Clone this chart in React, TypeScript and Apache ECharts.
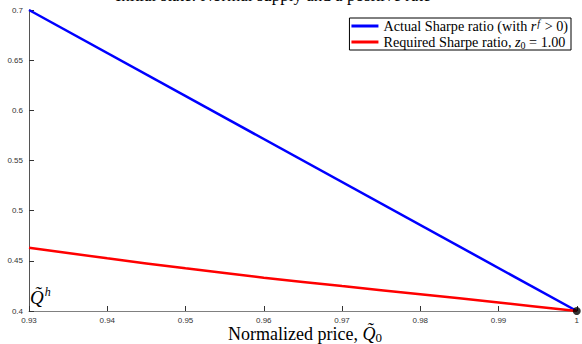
import React, { useEffect, useRef } from "react";
import * as echarts from "echarts";

const priceX = [0.93, 0.94, 0.95, 0.96, 0.97, 0.98, 0.99, 1.0];
const actualX = [0.93, 1.0];
const actualSharpe = [0.7, 0.4];
const requiredSharpe = [0.463, 0.4525, 0.4425, 0.4332, 0.4248, 0.4168, 0.4085, 0.4];
const endPoint = [1.0, 0.4];
const seriesNames = ["Actual Sharpe ratio", "Required Sharpe ratio"];
const titleText = "Initial state: Normal supply and a positive rate";

const SERIF = "'Liberation Serif', 'DejaVu Serif', serif";
const SANS = "'Liberation Sans', Arial, sans-serif";

export default function App() {
  const ref = useRef<HTMLDivElement>(null);
  useEffect(() => {
    if (!ref.current) return;
    const chart = echarts.init(ref.current, undefined, { renderer: "svg" });
    const fmt = (v: number) => String(+Number(v).toFixed(2));
    chart.setOption({
      animation: false,
      backgroundColor: "#ffffff",
      grid: { left: 29, right: 3, top: 10, bottom: 33 },
      xAxis: {
        type: "value",
        min: 0.93,
        max: 1.0,
        interval: 0.01,
        axisLine: { show: true, lineStyle: { color: "#808080", width: 1 } },
        axisTick: { show: true, inside: true, length: 5, lineStyle: { color: "#333" } },
        axisLabel: { formatter: fmt, fontFamily: SANS, fontSize: 8, color: "#333", margin: 5 },
        splitLine: { show: false },
      },
      yAxis: {
        type: "value",
        min: 0.4,
        max: 0.7,
        interval: 0.05,
        axisLine: { show: true, lineStyle: { color: "#555", width: 1 } },
        axisTick: { show: true, inside: true, length: 5, lineStyle: { color: "#333" } },
        axisLabel: { formatter: fmt, fontFamily: SANS, fontSize: 8, color: "#333", margin: 6 },
        splitLine: { show: false },
      },
      legend: {
        orient: "vertical",
        right: 11,
        top: 18,
        data: seriesNames,
        icon: "rect",
        itemWidth: 27,
        itemHeight: 3,
        itemGap: 0,
        padding: [0, 3, 0, 2],
        backgroundColor: "#fff",
        borderColor: "#000",
        borderWidth: 1,
        borderRadius: 0,
        textStyle: {
          fontFamily: SERIF,
          fontSize: 14.2,
          color: "#000",
          rich: {
            n: { fontFamily: SERIF, fontSize: 14.2, color: "#000", lineHeight: 13 },
            i: { fontFamily: SERIF, fontSize: 14.2, fontStyle: "italic", color: "#000", lineHeight: 13 },
            sup: { fontFamily: SERIF, fontSize: 10, fontStyle: "italic", color: "#000", lineHeight: 7, padding: [0, 1, 6, 1] },
            sub: { fontFamily: SERIF, fontSize: 10, color: "#000", lineHeight: 7, padding: [6, 0, 0, 0] },
          },
        },
        formatter: (name: string) =>
          name === seriesNames[0]
            ? "{n|Actual Sharpe ratio (with }{i|r}{sup|f}{n| > 0)}"
            : "{n|Required Sharpe ratio, }{i|z}{sub|0}{n| = 1.00}",
      },
      series: [
        {
          name: seriesNames[0],
          type: "line",
          data: actualX.map((x, i) => [x, actualSharpe[i]]),
          showSymbol: false,
          lineStyle: { color: "#0000ff", width: 2.5 },
          itemStyle: { color: "#0000ff" },
          z: 3,
        },
        {
          name: seriesNames[1],
          type: "line",
          data: priceX.map((x, i) => [x, requiredSharpe[i]]),
          showSymbol: false,
          smooth: 0.3,
          lineStyle: { color: "#ff0000", width: 2.5 },
          itemStyle: { color: "#ff0000" },
          z: 3,
        },
        {
          name: "end",
          type: "scatter",
          data: [endPoint],
          symbol: "circle",
          symbolSize: 8,
          itemStyle: { color: "#000" },
          z: 5,
        },
      ],
      graphic: [
        {
          type: "text",
          x: 273,
          y: 4,
          style: {
            text: titleText,
            fontFamily: SERIF,
            fontSize: 17,
            fill: "#000",
            align: "center",
            verticalAlign: "bottom",
          },
        },
        {
          type: "text",
          x: 305,
          y: 344,
          style: {
            text: "{n|Normalized price, }{i|Q\u0303}{s|0}",
            align: "center",
            verticalAlign: "bottom",
            rich: {
              n: { fontFamily: SERIF, fontSize: 18, fill: "#000" },
              i: { fontFamily: SERIF, fontSize: 18, fontStyle: "italic", fill: "#000" },
              s: { fontFamily: SERIF, fontSize: 13, fill: "#000", padding: [8, 0, 0, 0] },
            },
          },
        },
        {
          type: "text",
          x: 30,
          y: 308,
          style: {
            text: "{i|Q\u0303}{s|h}",
            align: "left",
            verticalAlign: "bottom",
            rich: {
              i: { fontFamily: SERIF, fontSize: 19, fontStyle: "italic", fill: "#000" },
              s: { fontFamily: SERIF, fontSize: 12, fontStyle: "italic", fill: "#000", padding: [0, 0, 10, 1] },
            },
          },
        },
      ],
    });
    return () => chart.dispose();
  }, []);
  return (
    <div
      ref={ref}
      style={{ position: "absolute", left: 0, top: 0, width: 582, height: 344 }}
    />
  );
}
